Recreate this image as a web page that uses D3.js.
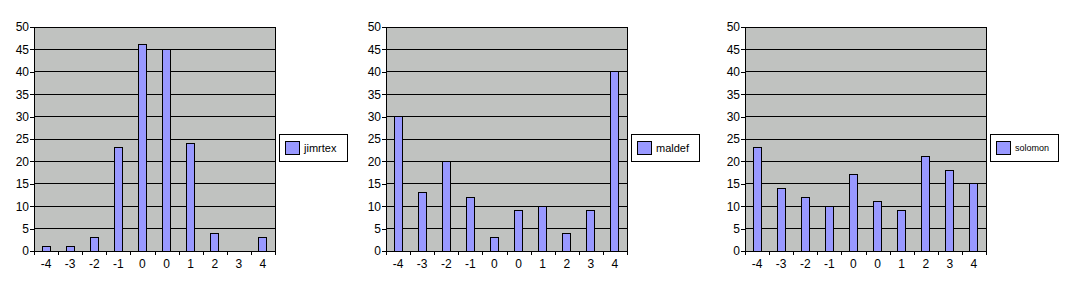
<!DOCTYPE html>
<html>
<head>
    <script src="https://d3js.org/d3.v7.min.js"></script>
    <style>
        body { margin: 0; background: #fff; }
        svg { display: block; font-family: Arial, "Liberation Sans", sans-serif; }
    </style>
</head>
<body>
    <div id="chart"></div>
    <script>
        let categories = ["-4", "-3", "-2", "-1", "0", "0", "1", "2", "3", "4"];
        let seriesNames = ["jimrtex", "maldef", "solomon"];
        let jimrtex = [1, 1, 3, 23, 46, 45, 24, 4, 0, 3];
        let maldef = [30, 13, 20, 12, 3, 9, 10, 4, 9, 40];
        let solomon = [23, 14, 12, 10, 17, 11, 9, 21, 18, 15];
        let yTicks = [0, 5, 10, 15, 20, 25, 30, 35, 40, 45, 50];

        let allSeries = [jimrtex, maldef, solomon];
        let panelLeft = [34, 386, 745];
        let legendFont = [11, 11, 9];

        let width = 1065;
        let height = 297;
        let plotTop = 27;
        let plotHeight = 224;
        let plotWidth = 241;

        let svg = d3.select("#chart").append("svg")
            .attr("width", width)
            .attr("height", height)
            .attr("viewBox", [0, 0, width, height]);

        let y = d3.scaleLinear()
            .domain([0, 50])
            .range([plotTop + plotHeight, plotTop]);

        allSeries.forEach((values, p) => {
            let left = panelLeft[p];
            let g = svg.append("g").attr("shape-rendering", "crispEdges");

            let x = d3.scaleBand()
                .domain(d3.range(categories.length))
                .range([left, left + plotWidth]);

            let xEdge = d3.scaleLinear()
                .domain([0, categories.length])
                .range([left, left + plotWidth]);

            // plot area
            g.append("rect")
                .attr("x", left)
                .attr("y", plotTop)
                .attr("width", plotWidth)
                .attr("height", plotHeight)
                .attr("fill", "#c0c2c0")
                .attr("stroke", "#000");

            // gridlines
            g.append("g")
                .selectAll("line")
                .data(yTicks)
                .join("line")
                .attr("x1", left)
                .attr("x2", left + plotWidth)
                .attr("y1", d => y(d))
                .attr("y2", d => y(d))
                .attr("stroke", "#000");

            // bars (skip zero values, keep category index)
            let bars = values.map((v, i) => ({ v: v, i: i })).filter(d => d.v > 0);
            g.append("g")
                .selectAll("rect")
                .data(bars)
                .join("rect")
                .attr("x", d => x(d.i) + x.bandwidth() / 3)
                .attr("width", x.bandwidth() / 3)
                .attr("y", d => y(d.v))
                .attr("height", d => y(0) - y(d.v))
                .attr("fill", "#9999ff")
                .attr("stroke", "#000");

            // y axis
            g.append("g")
                .attr("transform", `translate(${left},0)`)
                .call(d3.axisLeft(y).tickValues(yTicks).tickSize(4).tickPadding(1).tickSizeOuter(0))
                .call(a => a.selectAll("text").attr("font-size", 12).attr("fill", "#000").attr("font-family", null))
                .call(a => a.selectAll("line, path").attr("stroke", "#000"));

            // x axis edge ticks
            g.append("g")
                .attr("transform", `translate(0,${plotTop + plotHeight})`)
                .call(d3.axisBottom(xEdge).ticks(categories.length).tickFormat("").tickSize(4).tickSizeOuter(0))
                .call(a => a.selectAll("line, path").attr("stroke", "#000"));

            // x labels
            g.append("g")
                .attr("transform", `translate(0,${plotTop + plotHeight})`)
                .call(d3.axisBottom(x).tickFormat(i => categories[i]).tickSize(0).tickPadding(8))
                .call(a => a.select(".domain").remove())
                .call(a => a.selectAll("text").attr("font-size", 12).attr("fill", "#000").attr("font-family", null));

            // legend
            let lx = left + plotWidth + 4;
            let ly = 134;
            let legend = svg.append("g").attr("transform", `translate(${lx},${ly})`);
            legend.append("rect")
                .attr("x", 0.5).attr("y", 0.5)
                .attr("width", 68).attr("height", 27)
                .attr("fill", "#fff").attr("stroke", "#000");
            legend.append("rect")
                .attr("x", 6.5).attr("y", 7.5)
                .attr("width", 14).attr("height", 13)
                .attr("fill", "#9999ff").attr("stroke", "#000");
            legend.append("text")
                .attr("x", 25)
                .attr("y", 14)
                .attr("dy", "0.35em")
                .attr("font-size", legendFont[p])
                .text(seriesNames[p]);
        });
    </script>
</body>
</html>
